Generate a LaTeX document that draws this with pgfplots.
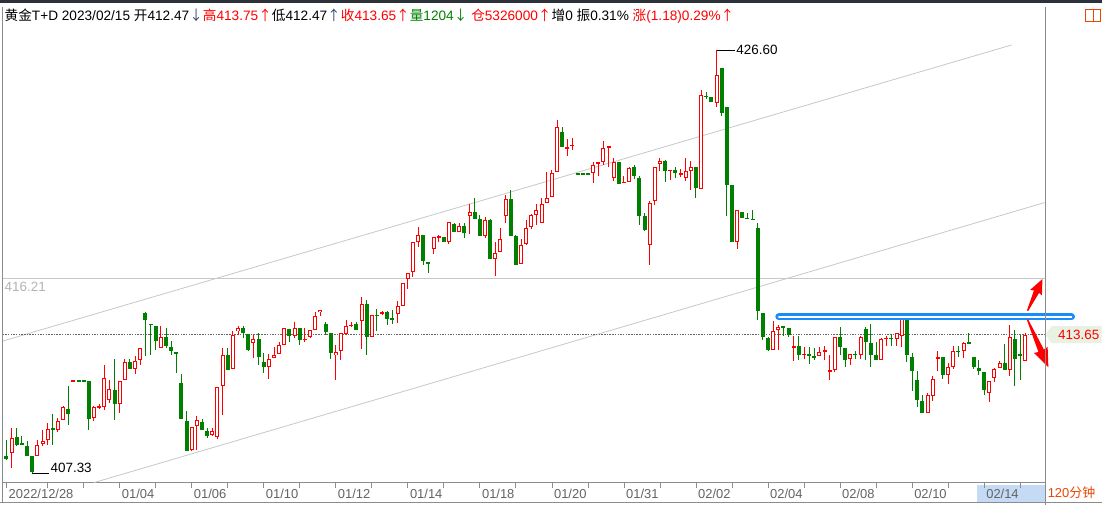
\documentclass[border=0pt]{standalone}
\usepackage{pgfplots}
\usepackage{pgfplotstable}
\pgfplotsset{compat=1.18}
\usepackage{fontspec}
\setmainfont{Liberation Sans}
\newfontfamily\cjk{Noto Sans CJK SC}
\usetikzlibrary{arrows.meta,backgrounds}
\definecolor{cred}{RGB}{255,0,0}
\definecolor{cgreen}{RGB}{0,128,0}
\definecolor{ctrend}{RGB}{200,200,200}
\definecolor{cdot}{RGB}{100,100,100}
\definecolor{cblue}{RGB}{24,140,250}
\definecolor{ctag}{RGB}{232,241,226}
\definecolor{ctick}{RGB}{100,100,100}
\definecolor{cframe}{RGB}{140,140,140}
\definecolor{cstrip}{RGB}{45,49,58}
\definecolor{chl}{RGB}{197,218,244}
\definecolor{corange}{RGB}{232,72,0}
\definecolor{carrow}{RGB}{50,70,100}

\pgfplotstableread{
i o h l c
1 408.27 409.41 407.59 408.95
6 408.12 408.88 408.12 408.65
7 408.68 409.33 408.57 408.83
8 408.85 409.63 408.62 409.36
10 409.30 409.86 409.21 409.74
11 409.76 410.39 409.76 410.35
13 411.56 411.56 411.56 411.56
17 409.86 410.39 409.71 410.35
18 410.30 410.50 410.27 410.39
19 410.35 412.26 410.24 411.68
20 410.69 411.60 410.54 411.18
22 410.50 411.56 410.09 411.56
23 411.59 412.54 411.59 412.42
25 412.09 412.66 411.88 412.47
26 412.50 413.04 412.29 413.04
30 413.04 414.03 413.04 413.54
36 408.39 409.45 408.35 409.45
37 409.48 409.97 408.39 409.79
40 409.07 409.41 409.03 409.29
41 408.98 411.27 408.91 411.27
42 411.30 413.04 409.98 412.74
44 412.07 413.80 412.07 413.65
45 413.80 414.03 413.65 413.95
48 413.27 413.65 412.59 413.45
51 412.16 412.79 411.65 412.54
52 412.59 413.07 412.59 412.74
53 412.77 413.30 412.77 413.19
54 413.16 413.95 413.16 413.95
56 413.57 414.22 413.50 413.95
58 413.41 413.95 413.32 413.47
59 413.54 413.85 413.50 413.85
60 413.88 414.66 413.85 414.51
61 414.66 414.79 414.48 414.76
64 412.71 413.19 411.60 412.86
65 412.89 413.72 412.51 413.72
66 413.68 414.33 413.65 414.06
67 414.06 414.21 413.98 414.10
69 414.29 415.35 413.01 415.04
71 413.53 414.53 413.53 414.53
73 414.59 414.74 414.53 414.68
76 414.59 415.19 414.18 414.97
77 414.97 416.00 414.94 416.00
78 416.18 416.45 415.74 416.45
79 416.48 417.85 416.26 417.85
80 417.89 418.53 417.66 418.19
83 417.57 418.09 417.33 418.09
84 418.07 418.19 417.86 418.12
86 417.86 418.77 417.79 418.77
88 418.32 418.73 418.32 418.61
90 419.03 419.59 418.23 419.23
93 418.12 419.00 418.05 418.88
95 417.11 417.86 416.30 417.36
96 417.40 418.50 417.40 418.00
97 419.03 420.02 418.73 419.82
100 416.86 418.00 416.86 417.74
101 417.79 418.88 417.74 418.50
102 418.53 419.15 418.46 419.08
103 419.08 419.59 418.62 419.33
104 418.73 419.86 418.73 419.59
105 419.64 421.03 419.64 419.86
106 419.90 421.15 419.90 421.00
107 421.05 423.43 421.05 423.09
109 422.15 422.56 421.76 422.18
110 422.23 422.59 422.03 422.30
114 421.00 421.53 420.55 421.38
115 421.41 421.50 420.85 421.50
116 421.53 422.47 421.38 422.14
117 422.17 422.21 421.30 422.21
118 420.80 421.68 420.65 421.53
120 420.55 420.88 420.55 420.62
121 420.62 421.30 420.59 421.23
125 417.74 419.71 416.83 419.64
126 419.71 421.27 419.56 421.27
127 421.41 421.71 421.08 421.56
129 421.11 421.15 420.70 421.15
131 420.96 421.18 420.82 420.99
132 420.80 421.68 420.65 421.11
133 421.08 421.56 420.24 421.27
135 420.29 424.79 420.29 424.56
138 424.21 426.60 424.03 425.47
142 417.85 419.33 417.56 419.33
149 412.97 414.26 412.97 413.80
150 413.88 414.08 412.97 414.00
153 413.09 413.58 412.44 413.12
155 412.74 413.09 412.56 412.78
158 412.66 413.09 412.66 412.86
159 412.89 413.15 412.48 412.93
160 411.98 412.74 411.60 412.03
161 412.03 413.54 411.93 413.54
164 412.54 412.77 412.25 412.77
166 412.71 413.57 412.56 413.54
170 412.48 413.49 412.48 413.46
171 413.48 413.57 413.15 413.51
173 413.45 413.72 413.15 413.72
174 413.57 414.56 413.07 414.48
179 410.09 410.99 410.09 410.89
180 410.84 411.75 410.62 411.65
181 412.59 412.89 411.98 412.62
183 411.83 412.36 411.42 412.18
184 412.18 413.15 412.10 412.92
186 412.93 413.34 412.59 413.27
191 410.99 411.56 410.57 411.56
192 411.68 412.13 411.48 412.09
193 412.13 412.46 412.13 412.36
195 412.03 414.10 411.78 413.54
198 412.47 413.75 412.47 413.65
}\redtab

\pgfplotstableread{
i o h l c
0 408.12 408.88 407.97 408.00
2 408.98 409.41 408.57 408.62
3 408.72 409.06 408.62 408.62
4 408.60 408.83 408.12 408.12
5 408.12 408.12 407.33 407.40
9 409.39 410.06 408.62 409.36
12 410.29 411.30 409.56 410.06
14 411.56 411.56 411.55 411.55
15 411.56 411.56 411.55 411.55
16 411.56 411.56 409.30 409.82
21 411.15 412.54 409.79 410.50
24 412.42 412.54 412.09 412.09
27 414.66 414.66 412.66 414.30
28 414.15 414.15 412.74 414.09
29 414.06 414.06 412.97 413.38
31 413.54 413.97 413.04 413.12
32 413.09 413.35 412.74 412.89
33 412.85 412.85 411.91 412.77
34 411.45 411.88 409.82 409.82
35 409.74 410.19 408.35 408.35
38 409.68 409.83 409.30 409.30
39 409.29 409.41 408.95 409.06
43 412.74 413.04 412.06 412.06
46 413.95 414.03 413.50 413.72
47 413.69 413.69 412.89 412.97
49 413.45 413.72 412.26 412.63
50 412.41 412.82 411.91 412.16
55 413.91 413.91 413.30 413.57
57 413.95 413.95 413.16 413.42
62 414.13 414.22 413.65 413.76
63 413.72 413.72 412.56 412.82
68 414.13 414.22 413.85 413.85
70 415.04 415.24 412.74 413.53
72 414.56 414.83 413.83 414.53
74 414.68 414.74 414.10 414.38
75 414.41 414.79 414.15 414.35
81 418.19 418.19 416.83 417.01
82 416.94 416.98 416.45 416.86
85 418.09 418.09 417.85 417.85
87 418.70 418.73 418.32 418.32
89 418.61 418.73 418.05 418.30
91 419.23 419.86 418.93 418.93
92 418.93 419.11 418.12 418.12
94 418.88 418.93 417.11 417.11
98 419.83 420.24 418.12 418.12
99 418.12 418.20 416.83 416.83
108 422.86 423.12 422.17 422.21
111 420.98 420.98 420.97 420.97
112 420.98 420.98 420.97 420.97
113 420.98 420.98 420.97 420.97
119 421.50 421.50 420.52 420.52
122 421.26 421.38 420.74 420.85
123 420.77 420.88 418.65 419.03
124 419.03 419.18 418.38 418.43
128 421.56 421.61 420.62 421.08
130 421.15 421.30 420.77 421.00
134 421.26 421.30 419.86 420.32
136 424.51 424.71 424.36 424.48
137 424.48 424.48 424.23 424.23
139 425.80 425.80 423.58 423.73
140 424.03 424.03 419.03 420.47
141 420.47 420.47 417.85 417.85
143 419.23 419.23 418.95 418.95
144 418.98 419.21 418.92 418.92
145 418.92 419.33 418.89 418.89
146 418.50 418.73 414.33 414.71
147 414.64 414.64 413.42 413.53
148 413.50 413.53 412.89 412.97
151 414.03 414.06 413.58 414.00
152 413.95 413.95 413.54 413.65
154 413.12 413.58 412.48 412.74
156 412.78 413.09 412.33 412.66
157 412.66 413.04 412.48 412.63
162 413.54 413.99 412.74 413.09
163 413.04 413.04 412.18 412.51
165 412.78 412.92 412.56 412.74
167 413.92 413.99 412.48 413.31
168 413.27 414.15 412.16 412.74
169 412.74 413.34 412.48 412.48
172 413.51 413.69 413.15 413.48
175 414.48 414.56 412.39 412.71
176 412.62 412.81 411.07 411.98
177 411.60 411.98 410.34 410.66
178 410.62 410.89 410.09 410.09
182 412.62 412.62 411.65 411.83
185 412.92 413.12 412.63 412.89
187 413.31 413.72 413.25 413.25
188 412.63 412.63 412.10 412.16
189 412.13 412.51 411.83 411.98
190 411.95 411.95 410.89 411.12
194 412.36 413.22 412.03 412.03
196 413.46 413.87 411.30 412.56
197 412.77 413.65 411.60 412.71
}\greentab

\pgfplotsset{candle/.style={draw=none, mark=none, forget plot, error bars/.cd, y dir=both, y explicit, error mark=none}}

\begin{document}
\begin{tikzpicture}[x=1bp,y=1bp]
\begin{axis}[
  scale only axis,
  width=1043bp, height=476bp,
  xmin=-0.777, xmax=201.75, ymin=406.923, ymax=428.559,
  clip=false,
  axis x line*=bottom, axis y line=none,
  x axis line style={draw=cframe, line width=1bp},
  ytick=\empty,
  xtick={0,22,36,50,64,78,92,106,120,134,148,162,176,190},
  xticklabels={2022/12/28,01/04,01/06,01/10,01/12,01/14,01/18,01/20,01/31,02/02,02/04,02/08,02/10,02/14},
  minor xtick={8,15,29,43,57,71,85,99,113,127,141,155,169,183,197},
  tick align=outside, major tick length=5bp, minor tick length=5bp,
  tick style={draw=cframe, line width=0.8bp},
  xticklabel style={anchor=west, inner sep=1bp, xshift=1bp, yshift=-6bp, text=ctick, font=\fontsize{13}{15}\selectfont},
]
% reference lines
\addplot[ctrend, line width=0.8bp, forget plot] coordinates {(-0.777,416.21) (201.75,416.21)};
\addplot[ctrend, line width=0.8bp, forget plot] coordinates {(-0.777,413.357) (195.34,426.83)};
\addplot[ctrend, line width=0.8bp, forget plot] coordinates {(17.03,406.923) (201.75,419.66)};
\addplot[cdot, line width=1bp, dash pattern=on 1.5bp off 1.2bp, forget plot] coordinates {(-0.777,413.65) (201.75,413.65)};

% green candles
\addplot[candle, error bar style={line width=1bp, draw=cgreen}]
  table[x=i, y expr={(\thisrow{h}+\thisrow{l})/2}, y error expr={(\thisrow{h}-\thisrow{l})/2}] {\greentab};
\addplot[candle, error bar style={line width=4bp, draw=cgreen}]
  table[x=i, y expr={(\thisrow{o}+\thisrow{c})/2}, y error expr={max((\thisrow{o}-\thisrow{c})/2,0.023)}] {\greentab};
% red candles
\addplot[candle, error bar style={line width=1bp, draw=cred}]
  table[x=i, y expr={(\thisrow{h}+\thisrow{l})/2}, y error expr={(\thisrow{h}-\thisrow{l})/2}] {\redtab};
\addplot[candle, error bar style={line width=4bp, draw=cred}]
  table[x=i, y expr={(\thisrow{o}+\thisrow{c})/2}, y error expr={max((\thisrow{c}-\thisrow{o})/2,0.023)}] {\redtab};
\addplot[candle, error bar style={line width=2bp, draw=white}]
  table[x=i, y expr={(\thisrow{o}+\thisrow{c})/2}, y error expr={max((\thisrow{c}-\thisrow{o})/2-0.0455,0)}] {\redtab};

\coordinate (SW) at (rel axis cs:0,0);
\coordinate (hi) at (axis cs:138,426.60);
\coordinate (lo) at (axis cs:5,407.33);
\end{axis}

\draw[black, line width=0.8bp] (hi) -- ([xshift=18bp]hi) node[anchor=west, inner sep=1.5bp, font=\fontsize{13.5}{15}\selectfont] {426.60};
\draw[black, line width=0.8bp] (lo) -- ([xshift=17bp]lo) node[anchor=south west, inner sep=1bp, font=\fontsize{13.5}{15}\selectfont] {407.33};

\begin{scope}[shift={(SW)}, xshift=-2bp, yshift=-22bp]
\begin{pgfonlayer}{background}
\fill[white] (0,0) rectangle (1102,505);
\fill[chl] (977,2) rectangle (1045,20);
\end{pgfonlayer}
\fill[cstrip] (0,502) rectangle (1102,505);

% blue horizontal band
\draw[cblue, line width=2.8bp, double=white, double distance=1.3bp, line cap=round] (779,187.8) -- (1072,187.8);

% red arrows
\fill[cred, shift={(1028,194)}, rotate=64.9] (0,-0.7) -- (21,-2.8) -- (20,-6.5) -- (35,0) -- (20,6.5) -- (21,2.8) -- (0,0.7) -- cycle;
\fill[cred, shift={(1028,185)}, rotate=-66.4] (0,-0.7) -- (34,-3) -- (33,-7.5) -- (52,0) -- (33,7.5) -- (34,3) -- (0,0.7) -- cycle;

% frame
\draw[cframe, line width=1bp] (2,2) -- (2,498);
\draw[cframe, line width=1bp] (1045.5,0) -- (1045.5,498);
\draw[cframe, line width=1bp] (0,2) -- (1102,2);

% price labels
\fill[ctag] (1046,170) -- (1052,178.5) -- (1102,178.5) -- (1102,161.5) -- (1052,161.5) -- cycle;
\node[anchor=east, inner sep=0, text=cred, font=\fontsize{13.5}{15}\selectfont] at (1100,170) {413.65};
\node[anchor=west, inner sep=0, text=ctrend!90!black, font=\fontsize{13.5}{15}\selectfont] at (4,218) {416.21};

% period label
\node[anchor=west, inner sep=0, text=corange, font=\fontsize{13}{15}\selectfont] at (1048,11.5) {120{\cjk 分钟}};

% top-right icon
\draw[corange, line width=1bp] (1086,483) rectangle (1101,495);
\draw[corange, line width=1bp] (1094,483) -- (1094,495);

% header
\node[anchor=west, inner sep=0, font=\fontsize{13.7}{15}\selectfont] at (4,489) {{\cjk 黄金}T+D 2023/02/15 {\cjk 开}412.47\textcolor{carrow}{\cjk ↓}\textcolor{cred}{{\cjk 高}413.75{\cjk ↑}}{\cjk 低}412.47\textcolor{carrow}{\cjk ↑}\textcolor{cred}{{\cjk 收}413.65{\cjk ↑}}\textcolor{cgreen}{{\cjk 量}1204{\cjk ↓}} \textcolor{cred}{{\cjk 仓}5326000{\cjk ↑}}{\cjk 增}0 {\cjk 振}0.31\% \textcolor{cred}{{\cjk 涨}(1.18)0.29\%{\cjk ↑}}};
\end{scope}
\end{tikzpicture}
\end{document}
